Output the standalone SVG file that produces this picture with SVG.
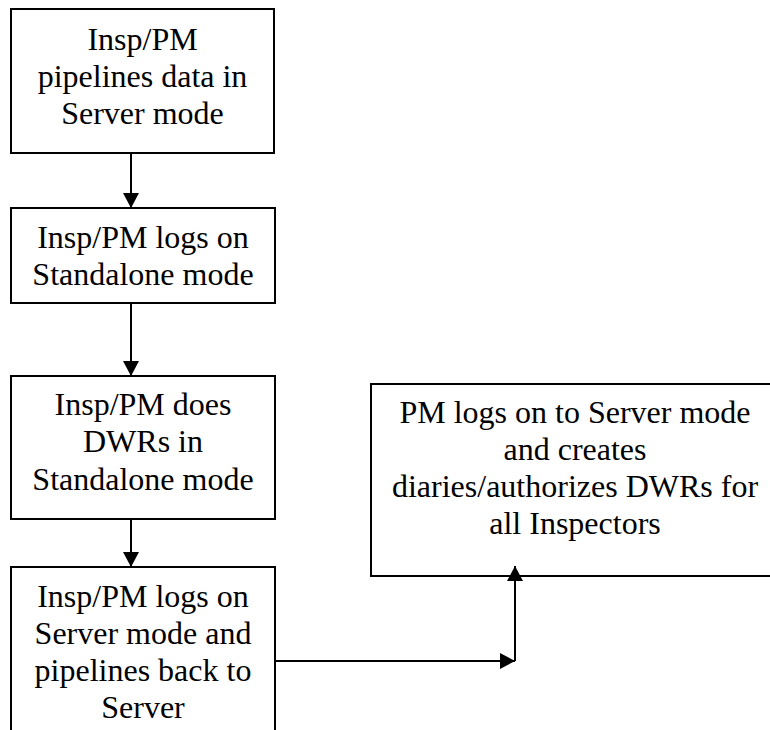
<svg xmlns="http://www.w3.org/2000/svg" width="770" height="730" viewBox="0 0 770 730">
<style>
.box{fill:#fff;stroke:#000;stroke-width:2}
.t{font-size:32px;fill:#000;text-anchor:middle}
.c{fill:none;stroke:#000;stroke-width:2}
</style>
<defs>
<marker id="ah" markerUnits="userSpaceOnUse" markerWidth="16" markerHeight="16" refX="15" refY="8" orient="auto" viewBox="0 0 16 16">
<path d="M0,0 L15,8 L0,16 Z" fill="#000"/>
</marker>
</defs>
<rect width="770" height="730" fill="#fff"/>
<g font-family="Liberation Serif, Times New Roman, Tinos, DejaVu Serif, serif">
<g id="n1">
<rect class="box" x="11" y="9" width="263" height="144"/>
<text class="t" x="142.5" y="50">Insp/PM</text>
<text class="t" x="142.5" y="87">pipelines data in</text>
<text class="t" x="142.5" y="124">Server mode</text>
</g>
<g id="n2">
<rect class="box" x="11" y="208" width="264" height="95"/>
<text class="t" x="143" y="248">Insp/PM logs on</text>
<text class="t" x="143" y="285">Standalone mode</text>
</g>
<g id="n3">
<rect class="box" x="11" y="376" width="264" height="143"/>
<text class="t" x="143" y="415">Insp/PM does</text>
<text class="t" x="143" y="452">DWRs in</text>
<text class="t" x="143" y="490">Standalone mode</text>
</g>
<g id="n4">
<rect class="box" x="11" y="567" width="264" height="180"/>
<text class="t" x="143" y="607">Insp/PM logs on</text>
<text class="t" x="143" y="644">Server mode and</text>
<text class="t" x="143" y="681">pipelines back to</text>
<text class="t" x="143" y="718">Server</text>
</g>
<g id="n5">
<rect class="box" x="371" y="384" width="410" height="192"/>
<text class="t" x="575" y="423">PM logs on to Server mode</text>
<text class="t" x="575" y="460">and creates</text>
<text class="t" x="575" y="497">diaries/authorizes DWRs for</text>
<text class="t" x="575" y="534">all Inspectors</text>
</g>
</g>
<g id="connectors">
<line class="c" x1="131" y1="153" x2="131" y2="208" marker-end="url(#ah)"/>
<line class="c" x1="131" y1="303" x2="131" y2="376" marker-end="url(#ah)"/>
<line class="c" x1="131" y1="519" x2="131" y2="567" marker-end="url(#ah)"/>
<line class="c" x1="275" y1="661" x2="515" y2="661" marker-end="url(#ah)"/>
<line class="c" x1="515" y1="661" x2="515" y2="566" marker-end="url(#ah)"/>
</g>
</svg>
